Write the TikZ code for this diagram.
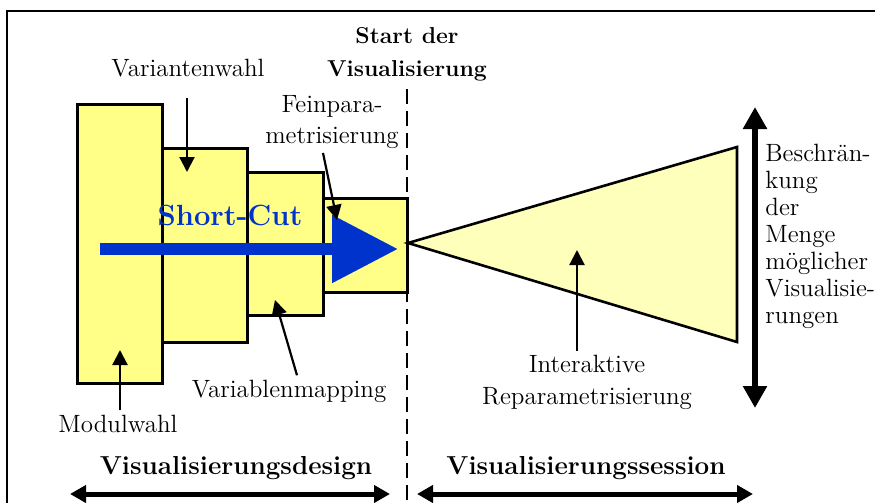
\documentclass[tikz,border=0pt]{standalone}
\usepackage{fontspec}
\usepackage{tikz}
\usetikzlibrary{arrows.meta}

\definecolor{boxyellow}{RGB}{255,255,136}
\definecolor{paleyellow}{RGB}{255,255,188}
\definecolor{shortblue}{RGB}{0,51,204}

\begin{document}
\begin{tikzpicture}[x=0.5pt, y=-0.5pt,
        box/.style={draw, line width=1.5pt, fill=boxyellow},
        pointer/.style={line width=1.1pt, -{Triangle[length=7.5pt, width=7.5pt]}},
        spanarrow/.style={line width=2.5pt, {Triangle[length=8pt, width=8.5pt]}-{Triangle[length=8pt, width=8.5pt]}},
        lbl/.style={inner sep=2pt, font=\fontsize{12.5}{15.5}\selectfont},
        ttl/.style={inner sep=2pt, font=\fontsize{13}{16}\selectfont\bfseries}]
        \useasboundingbox (0,0) rectangle (875,503);

        \draw[line width=1pt] (7,503) -- (7,11) -- (875,11);
        \draw[line width=1.2pt, dash pattern=on 7.5pt off 3.5pt] (407,89) -- (407,503);

        \draw[box] (77,104) rectangle (162,383);
        \draw[box] (162,148) rectangle (247,342);
        \draw[box] (247,172) rectangle (323,315);
        \draw[box] (323,198) rectangle (407,292);
        \draw[box, fill=paleyellow, line width=1.3pt] (408,243) -- (737,147) -- (737,342) -- cycle;

        % short-cut
        \coordinate (scStart) at (100,249);
        \coordinate (scTip) at (398,249);
        \draw[shortblue, line width=6pt, -{Triangle[length=33pt, width=32.5pt]}] (scStart) -- (scTip);
        \node[font=\fontsize{14.6}{17}\selectfont\bfseries, text=shortblue, anchor=base] (scLbl) at (230,225) {Short-Cut};

        \node[lbl, anchor=base] (mwLbl) at (118,432) {Modulwahl};
        \coordinate (mwTip) at (120,350);
        \draw[pointer] (mwLbl.north -| mwTip) -- (mwTip);

        \node[lbl, anchor=base] (vwLbl) at (188,76) {Variantenwahl};
        \coordinate (vwTip) at (187,172);
        \draw[pointer] (vwLbl.south -| vwTip) ++(0,17) -- (vwTip);

        \node[lbl, anchor=base] (vmLbl) at (289,397) {Variablenmapping};
        \coordinate (vmTip) at (275,300);
        \draw[pointer] ([xshift=4pt]vmLbl.north) -- (vmTip);

        \node[lbl, align=center, anchor=north] (fpLbl) at (332,91) {Feinpara-\\metrisierung};
        \coordinate (fpTip) at (337,220);
        \draw[pointer] ([xshift=-4.5pt]fpLbl.south) -- (fpTip);

        \node[lbl, align=center, anchor=north, font=\fontsize{12.5}{16}\selectfont] (irLbl) at (587,351) {Interaktive\\Reparametrisierung};
        \coordinate (irTip) at (577,250);
        \draw[pointer] (irLbl.north -| irTip) -- (irTip);

        \node[ttl, align=center, anchor=north, font=\fontsize{11.5}{16.5}\selectfont\bfseries] (startLbl) at (407,23) {Start der\\Visualisierung};

        % rechte Seite
        \node[lbl, align=left, anchor=north west, font=\fontsize{12.5}{13.5}\selectfont] (limLbl) at (761,140) {Beschrän-\\kung\\der\\Menge\\möglicher\\Visualisie-\\rungen};
        \coordinate (limTop) at (755,107);
        \coordinate (limBot) at (755,408);
        \draw[line width=3pt, {Triangle[length=11pt, width=11.5pt]}-{Triangle[length=11pt, width=11.5pt]}] (limTop) -- (limBot);

        % unten
        \node[ttl, anchor=base] (designLbl) at (236,474) {Visualisierungsdesign};
        \node[ttl, anchor=base] (sessionLbl) at (586,474) {Visualisierungssession};
        \coordinate (designL) at (70,494);
        \coordinate (designR) at (390,494);
        \coordinate (sessionL) at (417,494);
        \coordinate (sessionR) at (753,494);
        \draw[spanarrow] (designL) -- (designR);
        \draw[spanarrow] (sessionL) -- (sessionR);
    \end{tikzpicture}
\end{document}
